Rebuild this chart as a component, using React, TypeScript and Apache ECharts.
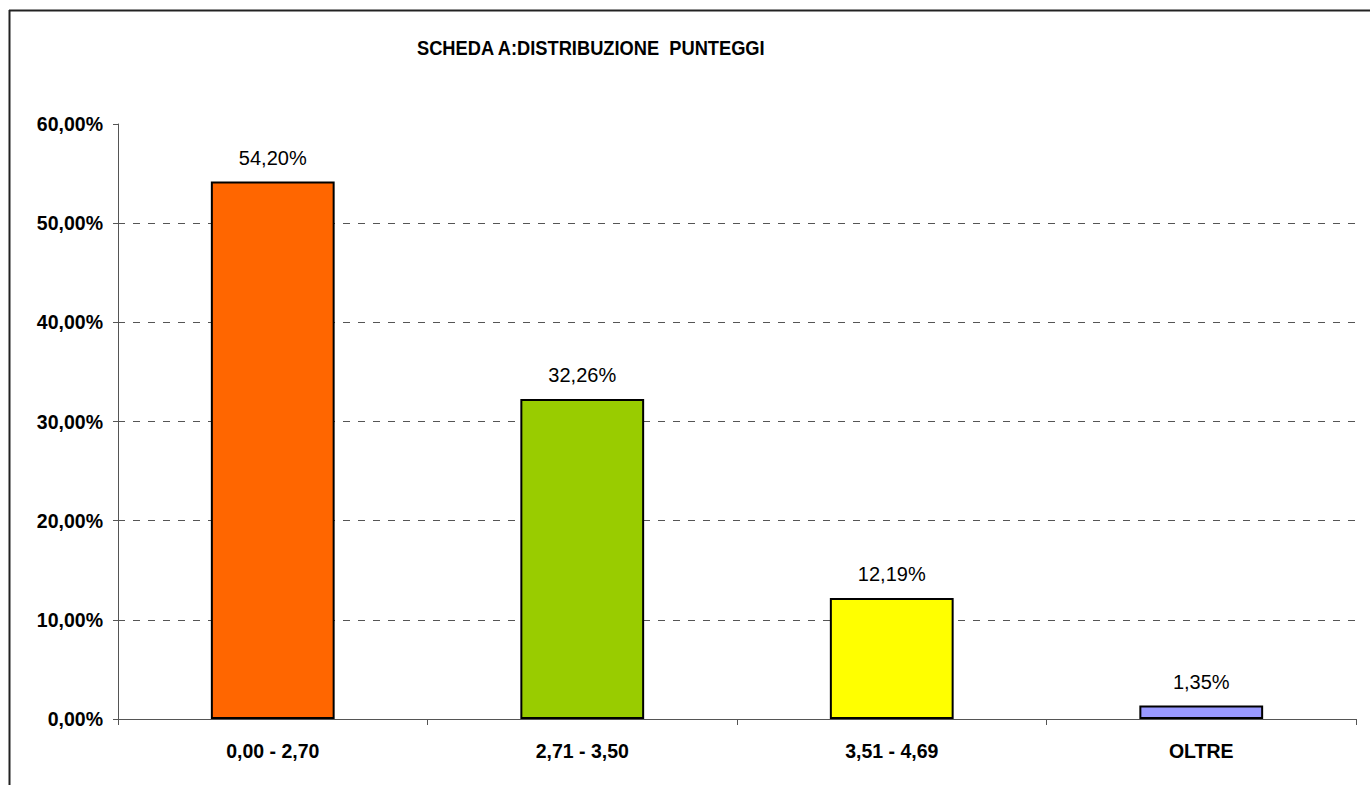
import React, { useEffect, useRef } from "react";
import * as echarts from "echarts";

const categories = ["0,00 - 2,70", "2,71 - 3,50", "3,51 - 4,69", "OLTRE"];
const values = [54.2, 32.26, 12.19, 1.35];
const barColors = ["#FF6600", "#99CC00", "#FFFF00", "#9999FF"];
const yTicks = { min: 0, max: 60, interval: 10 };
const titleText = "SCHEDA A:DISTRIBUZIONE  PUNTEGGI";

const fmt = (v: number) => v.toFixed(2).replace(".", ",") + "%";
const FONT = "Liberation Sans, Arial, sans-serif";

export default function App() {
  const ref = useRef<HTMLDivElement>(null);
  useEffect(() => {
    if (!ref.current) return;
    const chart = echarts.init(ref.current, null, { renderer: "svg" });
    chart.setOption({
      animation: false,
      backgroundColor: "#ffffff",
      textStyle: { fontFamily: FONT },
      graphic: [
        {
          type: "line",
          shape: { x1: 9, y1: 10.5, x2: 1370, y2: 10.5 },
          style: { stroke: "#222", lineWidth: 2 },
          silent: true,
        },
        {
          type: "line",
          shape: { x1: 9.5, y1: 10, x2: 9.5, y2: 785 },
          style: { stroke: "#222", lineWidth: 2 },
          silent: true,
        },
        {
          type: "text",
          x: 417,
          y: 48,
          scaleX: 0.87,
          silent: true,
          style: {
            text: titleText,
            fontFamily: FONT,
            fontSize: 21,
            fontWeight: "bold",
            fill: "#000",
            verticalAlign: "middle",
            align: "left",
          },
        },
      ],
      grid: { left: 118, right: 14, top: 124, bottom: 66, containLabel: false },
      xAxis: {
        type: "category",
        data: categories,
        axisLine: { lineStyle: { color: "#555", width: 1 } },
        axisTick: { show: true, length: 6, lineStyle: { color: "#555" } },
        axisLabel: {
          fontSize: 19.5,
          fontWeight: "bold",
          color: "#000",
          margin: 22,
          fontFamily: FONT,
        },
        splitLine: { show: false },
      },
      yAxis: {
        type: "value",
        min: yTicks.min,
        max: yTicks.max,
        interval: yTicks.interval,
        axisLine: { show: true, lineStyle: { color: "#555", width: 1 } },
        axisTick: { show: true, length: 5, lineStyle: { color: "#555" } },
        axisLabel: {
          formatter: (v: number) => fmt(v),
          fontSize: 19.5,
          fontWeight: "bold",
          color: "#000",
          margin: 15,
          fontFamily: FONT,
        },
        splitLine: {
          show: true,
          showMaxLine: false,
          lineStyle: { color: "#555", type: [7, 8], width: 1 },
        },
      },
      series: [
        {
          type: "bar",
          barWidth: "40%",
          data: values.map((v, i) => ({
            value: v,
            itemStyle: { color: barColors[i], borderColor: "#000", borderWidth: 2 },
          })),
          label: {
            show: true,
            position: "top",
            distance: 14,
            formatter: (p: any) => fmt(p.value),
            fontSize: 20,
            color: "#000",
            fontFamily: FONT,
          },
        },
      ],
    });
    return () => chart.dispose();
  }, []);
  return (
    <div
      ref={ref}
      style={{ position: "fixed", left: 0, top: 0, width: 1370, height: 785 }}
    />
  );
}
